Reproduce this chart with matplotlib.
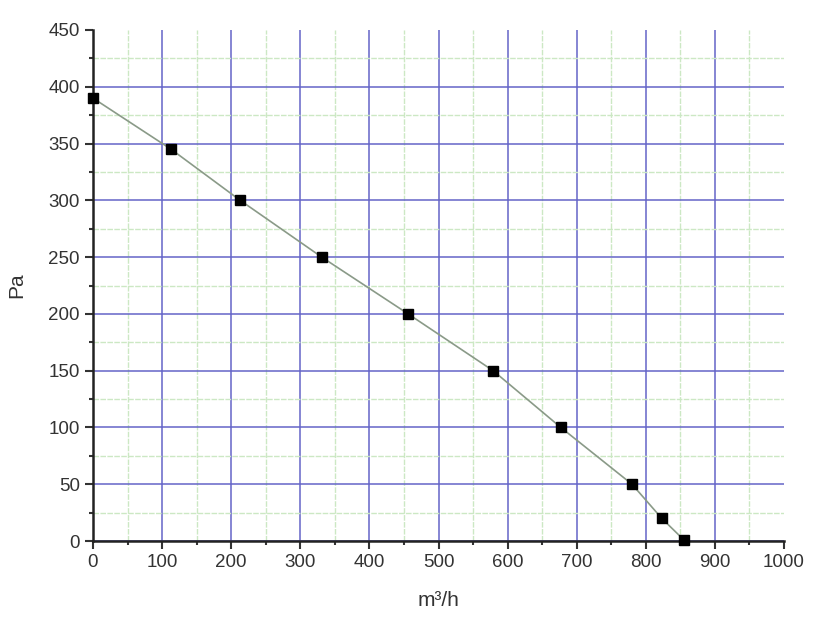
import matplotlib
matplotlib.use("Agg")
import matplotlib.pyplot as plt
from matplotlib.ticker import MultipleLocator

plt.rcParams['font.family'] = ['Liberation Sans', 'DejaVu Sans']

flow = [0, 113, 213, 331, 456, 579, 677, 780, 823, 855]
pressure = [390, 345, 300, 250, 200, 150, 100, 50, 20, 1]

fig = plt.figure(figsize=(8.29, 6.26), dpi=100)
ax = fig.add_axes([93/829, 1-541/626, (784-93)/829, (541-30)/626])

ax.set_xlim(0, 1000)
ax.set_ylim(0, 450)
ax.xaxis.set_major_locator(MultipleLocator(100))
ax.xaxis.set_minor_locator(MultipleLocator(50))
ax.yaxis.set_major_locator(MultipleLocator(50))
ax.yaxis.set_minor_locator(MultipleLocator(25))

ax.grid(which='major', color='#6464c8', linewidth=1.1)
ax.grid(which='minor', color='#cce8c4', linewidth=1.0, linestyle=(0, (4, 1)))
ax.set_axisbelow(True)

ax.plot(flow, pressure, color='#8a9a88', linewidth=1.2, marker='s',
        markersize=7, markerfacecolor='black', markeredgecolor='black', clip_on=False, zorder=3)

for s in ['top', 'right']:
    ax.spines[s].set_visible(False)
for s in ['left', 'bottom']:
    ax.spines[s].set_linewidth(1.8)
    ax.spines[s].set_color('#222222')

ax.tick_params(which='major', length=6, width=1.5, labelsize=13.5, colors='#333333')
ax.tick_params(which='minor', length=3, width=1.5, colors='#333333')

ax.set_xlabel('m³/h', fontsize=15, color='#333333', labelpad=14)
ax.set_ylabel('Pa', fontsize=15, color='#333333', labelpad=16)

fig.canvas.draw()
for t in ax.xaxis.get_major_ticks():
    if abs(t.get_loc() - 1000) < 1e-6:
        t.gridline.set_visible(False)
for t in ax.yaxis.get_major_ticks():
    if abs(t.get_loc() - 450) < 1e-6:
        t.gridline.set_visible(False)

fig.savefig('out.png', dpi=100)
